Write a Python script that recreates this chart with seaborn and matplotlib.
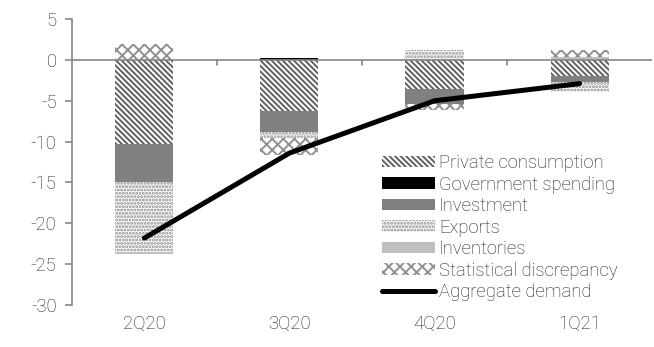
import numpy as np
import pandas as pd
import matplotlib
matplotlib.use("Agg")
import matplotlib.pyplot as plt
import seaborn as sns
from matplotlib.patches import Patch
from matplotlib.lines import Line2D

# Contributions to growth, percentage points
quarters = ["2Q20", "3Q20", "4Q20", "1Q21"]
private_consumption = [-10.3, -6.3, -3.6, -2.0]
government_spending = [0.0, 0.2, 0.0, 0.0]
investment = [-4.7, -2.5, -1.8, -0.7]
exports = [-8.5, -0.8, 1.2, -1.2]
inventories = [-0.3, 0.0, 0.0, 0.3]
statistical_discrepancy = [2.0, -2.0, -0.7, 0.9]
aggregate_demand = [-21.8, -11.4, -5.0, -2.9]

components = {
    "Private consumption": private_consumption,
    "Government spending": government_spending,
    "Investment": investment,
    "Exports": exports,
    "Inventories": inventories,
    "Statistical discrepancy": statistical_discrepancy,
}

styles = {
    "Private consumption": dict(facecolor="white", edgecolor="#606060", hatch="\\\\\\\\\\\\"),
    "Government spending": dict(facecolor="black", edgecolor="black", hatch=None),
    "Investment": dict(facecolor="#808080", edgecolor="#808080", hatch=None),
    "Exports": dict(facecolor="white", edgecolor="#8a8a8a", hatch="....."),
    "Inventories": dict(facecolor="#bfbfbf", edgecolor="#bfbfbf", hatch=None),
    "Statistical discrepancy": dict(facecolor="white", edgecolor="#909090", hatch="xxx"),
}

sns.set_style("white")
plt.rcParams["font.family"] = ["Roboto", "DejaVu Sans"]
plt.rcParams["font.weight"] = "light"
plt.rcParams["axes.unicode_minus"] = False
plt.rcParams["hatch.linewidth"] = 1.4

fig = plt.figure(figsize=(6.54, 3.47), dpi=100)
ax = fig.add_axes([0.110, 0.121, 0.887, 0.824])

x = np.arange(len(quarters))
width = 0.4
pos_base = np.zeros(len(quarters))
neg_base = np.zeros(len(quarters))
for name, vals in components.items():
    vals = np.asarray(vals, dtype=float)
    bottoms = np.where(vals >= 0, pos_base, neg_base)
    st = styles[name]
    ax.bar(x, vals, width=width, bottom=bottoms, color=st["facecolor"],
           edgecolor=st["edgecolor"], hatch=st["hatch"], linewidth=0, zorder=2)
    pos_base = pos_base + np.where(vals >= 0, vals, 0)
    neg_base = neg_base + np.where(vals < 0, vals, 0)

df_line = pd.DataFrame({"x": x, "Aggregate demand": aggregate_demand})
sns.lineplot(data=df_line, x="x", y="Aggregate demand", color="black",
             linewidth=3.6, ax=ax, zorder=4, solid_capstyle="round")

ax.set_xlim(-0.5, len(quarters) - 0.5)
ax.set_ylim(-30, 5)
ax.set_yticks(np.arange(-30, 6, 5))
ax.set_xticks(x)
ax.set_xticklabels(quarters)
ax.set_xlabel("")
ax.set_ylabel("")

grey = "#868686"
txt = "#202020"
fs = 13.3
for s in ["top", "right", "bottom"]:
    ax.spines[s].set_visible(False)
ax.spines["left"].set_color(grey)
ax.spines["left"].set_linewidth(1.2)
ax.tick_params(axis="y", which="both", left=True, length=5, width=1.2,
               color=grey, labelcolor=txt, labelsize=fs, pad=6)
ax.tick_params(axis="x", length=0, labelcolor=txt, labelsize=fs, pad=7)

# Category axis drawn along zero, with ticks between categories
ax.axhline(0, color=grey, linewidth=1.2, zorder=3)
for b in np.arange(0.5, len(quarters) - 0.5, 1.0):
    ax.plot([b, b], [0, -0.6], color=grey, linewidth=1.2, zorder=3)

handles = [Patch(facecolor=styles[n]["facecolor"], edgecolor=styles[n]["edgecolor"],
                 hatch=styles[n]["hatch"], linewidth=0, label=n) for n in components]
handles.append(Line2D([0], [0], color="black", linewidth=3.6, label="Aggregate demand",
                      solid_capstyle="round"))
leg = ax.legend(handles=handles, loc="lower left", bbox_to_anchor=(0.515, -0.025),
                frameon=False, fontsize=fs, handlelength=2.9, handleheight=0.6,
                handletextpad=0.2, labelspacing=0.19, borderaxespad=0.2)
for t in leg.get_texts():
    t.set_color(txt)

fig.savefig("out.png", dpi=100)
